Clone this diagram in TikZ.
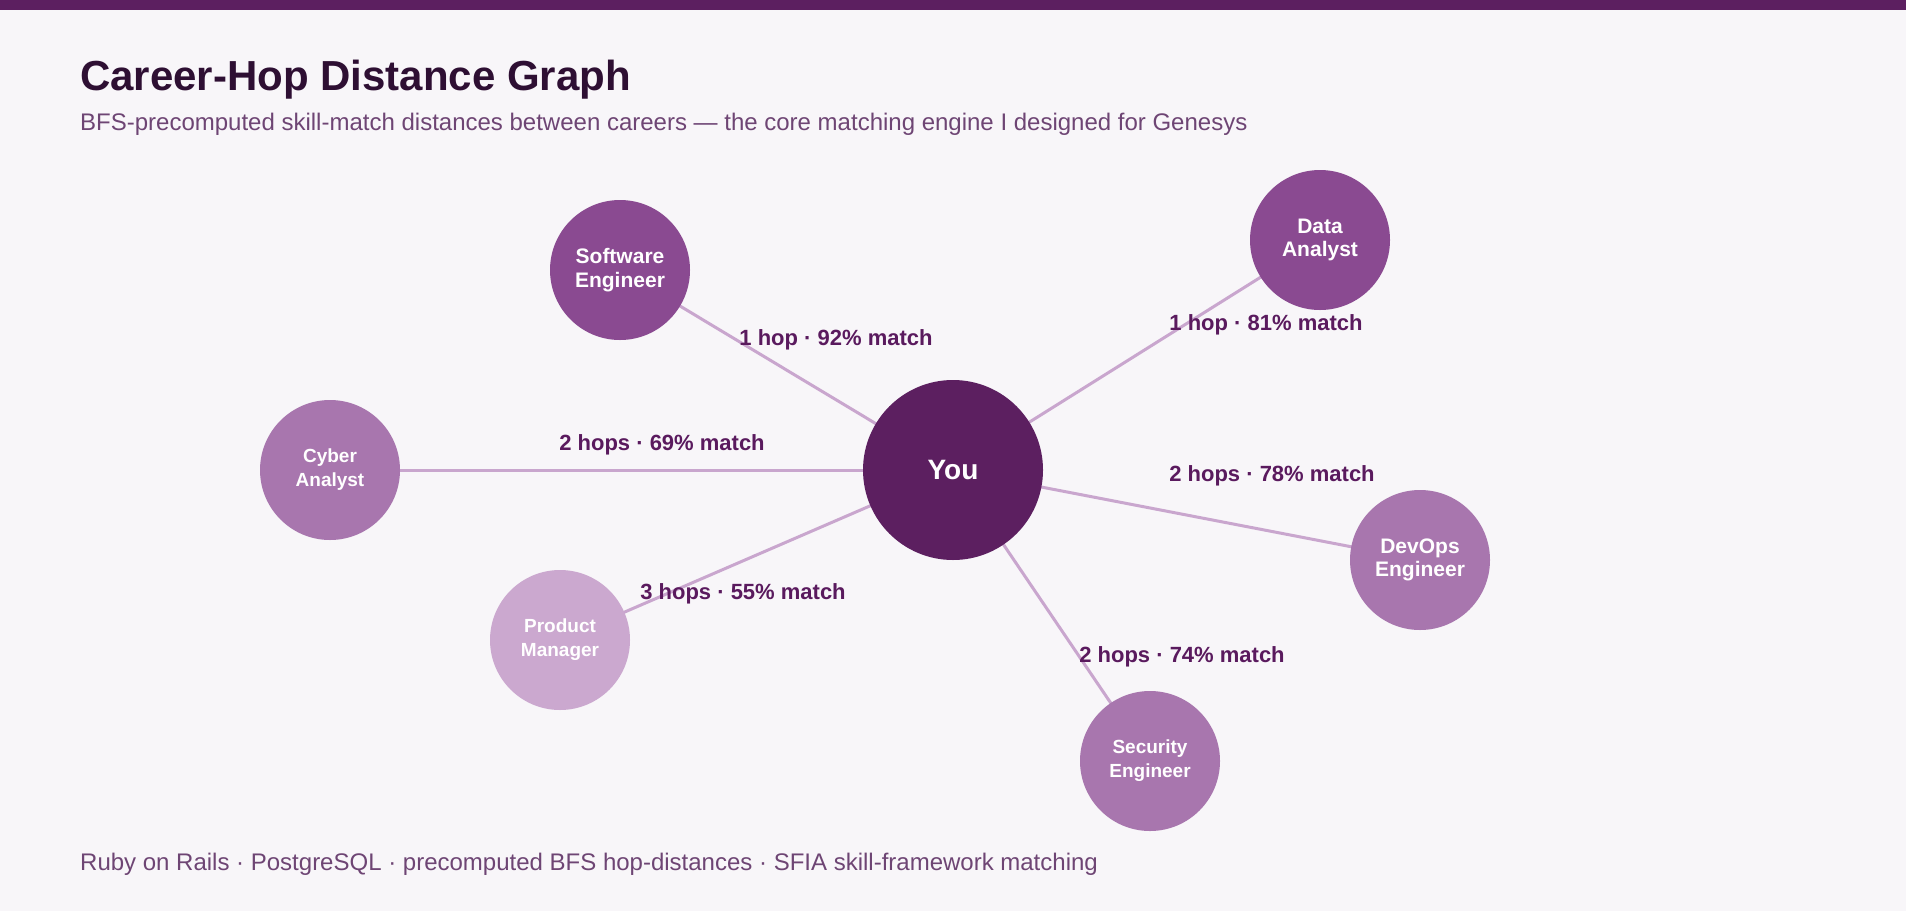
\documentclass[tikz,border=0pt]{standalone}
\usepackage{fontspec}
\setmainfont{Liberation Sans}
\usepackage{tikz}

\definecolor{pagebg}{HTML}{F8F6F9}
\definecolor{deeppurple}{HTML}{5C1F60}
\definecolor{titleink}{HTML}{2E0F33}
\definecolor{subink}{HTML}{6E4574}
\definecolor{labelink}{HTML}{5A1A5E}
\definecolor{edgelilac}{HTML}{C9A6CE}
\definecolor{hopone}{HTML}{8A4A91}
\definecolor{hoptwo}{HTML}{A876AE}
\definecolor{hopthree}{HTML}{CBA8CF}

\tikzset{
	career/.style={circle,minimum size=140pt,inner sep=0pt,text=white,align=center,
		font=\bfseries\fontsize{19}{24}\selectfont},
	careerbig/.style={career,font=\bfseries\fontsize{21}{23.5}\selectfont},
	hopedge/.style={draw=edgelilac,line width=3pt},
	hoplabel/.style={anchor=base,inner sep=0pt,text=labelink,font=\bfseries\fontsize{22}{26}\selectfont}
}

\begin{document}
\begin{tikzpicture}[x=1pt,y=-1pt]
					\fill[pagebg] (0,0) rectangle (1906,911);
					\useasboundingbox (0,0) rectangle (1906,911);
					\fill[deeppurple] (0,0) rectangle (1906,10);
					
					\node[anchor=base west,inner sep=0pt,text=titleink,font=\bfseries\fontsize{42}{50}\selectfont] (title) at (80,90) {Career-Hop Distance Graph};
					\node[anchor=base west,inner sep=0pt,text=subink,font=\fontsize{24}{29}\selectfont] (subtitle) at (80,130) {BFS-precomputed skill-match distances between careers — the core matching engine I designed for Genesys};
					\node[anchor=base west,inner sep=0pt,text=subink,font=\fontsize{24}{29}\selectfont] (footer) at (80,870) {Ruby on Rails · PostgreSQL · precomputed BFS hop-distances · SFIA skill-framework matching};
					
					\coordinate (c-you) at (953,470);
					\coordinate (c-soft) at (620,270);
					\coordinate (c-data) at (1320,240);
					\coordinate (c-cyber) at (330,470);
					\coordinate (c-prod) at (560,640);
					\coordinate (c-devops) at (1420,560);
					\coordinate (c-sec) at (1150,761);
					
					\draw[hopedge] (c-you) -- (c-soft);
					\draw[hopedge] (c-you) -- (c-data);
					\draw[hopedge] (c-you) -- (c-cyber);
					\draw[hopedge] (c-you) -- (c-prod);
					\draw[hopedge] (c-you) -- (c-devops);
					\draw[hopedge] (c-you) -- (c-sec);
					
					\node[career,minimum size=180pt,fill=deeppurple,font=\bfseries\fontsize{28}{32}\selectfont] (you) at (c-you) {You};
					\node[careerbig,fill=hopone] (soft) at (c-soft) {Software\\Engineer};
					\node[careerbig,fill=hopone] (data) at (c-data) {Data\\Analyst};
					\node[career,fill=hoptwo] (cyber) at (c-cyber) {Cyber\\Analyst};
					\node[career,fill=hopthree] (prod) at (c-prod) {Product\\Manager};
					\node[careerbig,fill=hoptwo] (devops) at (c-devops) {DevOps\\Engineer};
					\node[career,fill=hoptwo] (sec) at (c-sec) {Security\\Engineer};
					
					\node[hoplabel] (l-soft) at (836,345) {1 hop · 92\% match};
					\node[hoplabel] (l-cyber) at (662,450) {2 hops · 69\% match};
					\node[hoplabel] (l-prod) at (743,599) {3 hops · 55\% match};
					\node[hoplabel] (l-data) at (1266,330) {1 hop · 81\% match};
					\node[hoplabel] (l-devops) at (1272,481) {2 hops · 78\% match};
					\node[hoplabel] (l-sec) at (1182,662) {2 hops · 74\% match};
				\end{tikzpicture}
\end{document}
